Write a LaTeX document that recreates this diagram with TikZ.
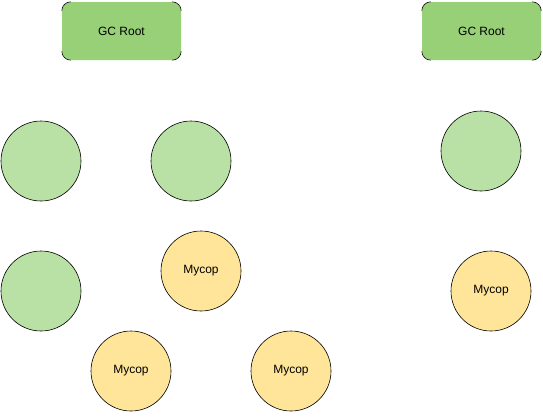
\documentclass[tikz,border=0pt]{standalone}
\usepackage{fontspec}
\setmainfont{Liberation Sans}
\definecolor{rootgreen}{HTML}{97D077}
\definecolor{lightgreen}{HTML}{B9E0A5}
\definecolor{myyellow}{HTML}{FFE599}
\tikzset{
  gcroot/.style={fill=rootgreen, draw=none, rounded corners=9pt, minimum width=119pt, minimum height=58pt, inner sep=0pt, font=\fontsize{12}{14}\selectfont},
  gcircle/.style={circle, fill=lightgreen, draw=black, line width=0.6pt, minimum size=80pt, inner sep=0pt},
  ycircle/.style={circle, fill=myyellow, draw=black, line width=0.6pt, minimum size=80pt, inner sep=0pt, font=\fontsize{12}{14}\selectfont},
  cornerarc/.style={draw=black, line width=0.6pt}
}
\newcommand{\rootcorners}[1]{%
  \draw[cornerarc] ([yshift=-9pt]#1.north west) arc[start angle=180, end angle=90, radius=9pt];
  \draw[cornerarc] ([xshift=-9pt]#1.north east) arc[start angle=90, end angle=0, radius=9pt];
  \draw[cornerarc] ([yshift=9pt]#1.south east) arc[start angle=0, end angle=-90, radius=9pt];
  \draw[cornerarc] ([xshift=9pt]#1.south west) arc[start angle=270, end angle=180, radius=9pt];
}
\begin{document}
\begin{tikzpicture}[x=1pt, y=-1pt]
\useasboundingbox (0,0) rectangle (543,416);
\node[gcroot] (r1) at (121.5,31) {GC Root};
\node[gcroot] (r2) at (481.5,31) {GC Root};
\rootcorners{r1}
\rootcorners{r2}
\node[gcircle] (g1) at (41,161) {};
\node[gcircle] (g2) at (191,161) {};
\node[gcircle] (g3) at (481,151) {};
\node[gcircle] (g4) at (41,291) {};
\node[ycircle] (m1) at (201,271) {Mycop};
\node[ycircle] (m2) at (131,371) {Mycop};
\node[ycircle] (m3) at (291,371) {Mycop};
\node[ycircle] (m4) at (491,291) {Mycop};
\end{tikzpicture}
\end{document}
